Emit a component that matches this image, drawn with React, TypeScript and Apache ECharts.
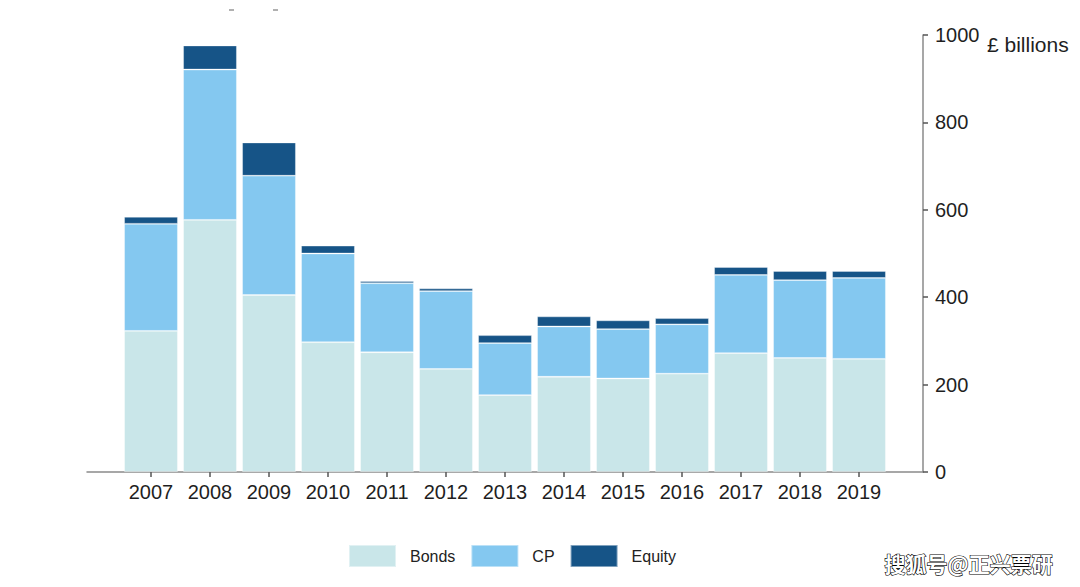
import React, { useEffect, useRef } from "react";
import * as echarts from "echarts";

const years = ["2007", "2008", "2009", "2010", "2011", "2012", "2013", "2014", "2015", "2016", "2017", "2018", "2019"];
const bonds = [323, 577, 405, 297, 274, 236, 176, 218, 214, 225, 272, 261, 259];
const cp = [245, 344, 273, 203, 158, 178, 119, 115, 113, 113, 179, 178, 185];
const equity = [16, 55, 76, 18, 5, 6, 18, 23, 20, 14, 18, 21, 16];
const yTicks = [0, 200, 400, 600, 800, 1000];
const seriesNames = ["Bonds", "CP", "Equity"];
const colors = ["#c9e6e9", "#84c8f0", "#165487"];

export default function App() {
  const ref = useRef<HTMLDivElement>(null);
  useEffect(() => {
    if (!ref.current) return;
    const chart = echarts.init(ref.current, undefined, { renderer: "svg" });
    const dataSets = [bonds, cp, equity];
    chart.setOption({
      animation: false,
      backgroundColor: "#ffffff",
      textStyle: { fontFamily: "Liberation Sans, Arial, sans-serif" },
      legend: {
        data: seriesNames,
        left: 348,
        top: 544,
        padding: 0,
        icon: "rect",
        itemWidth: 47,
        itemHeight: 22,
        itemGap: 15,
        textStyle: { fontSize: 16, color: "#222", padding: [0, 0, 0, 9] },
      },
      grid: [
        { left: 121.5, right: 191.5, top: 35, bottom: 115, containLabel: false },
        { left: 87, right: 157, top: 35, bottom: 115, containLabel: false },
      ],
      xAxis: [
        {
          type: "category",
          gridIndex: 0,
          data: years,
          axisLine: { show: false },
          axisTick: { show: true, alignWithLabel: true, length: 5, lineStyle: { color: "#555", width: 1.5 } },
          axisLabel: { fontSize: 20, color: "#1f1f1f", margin: 10 },
        },
        {
          type: "category",
          gridIndex: 1,
          data: [""],
          axisLine: { show: true, lineStyle: { color: "#8a8a8a", width: 1.5 } },
          axisTick: { show: false },
          axisLabel: { show: false },
        },
      ],
      yAxis: [
        {
          type: "value",
          gridIndex: 0,
          min: 0,
          max: 1000,
          interval: 200,
          show: false,
          splitLine: { show: false },
        },
        {
          type: "value",
          gridIndex: 1,
          position: "right",
          min: yTicks[0],
          max: yTicks[yTicks.length - 1],
          interval: 200,
          axisLine: { show: true, lineStyle: { color: "#8a8a8a", width: 1.5 } },
          axisTick: { show: true, inside: false, length: 5, lineStyle: { color: "#555", width: 1.5 } },
          axisLabel: { fontSize: 20, color: "#1f1f1f", margin: 12, formatter: (v: number) => String(v) },
          splitLine: { show: false },
        },
      ],
      series: seriesNames.map((name, i) => ({
        name,
        type: "bar",
        stack: "total",
        xAxisIndex: 0,
        yAxisIndex: 0,
        barCategoryGap: "9%",
        data: dataSets[i],
        itemStyle: { color: colors[i], borderColor: "rgba(255,255,255,0.45)", borderWidth: 0.8 },
      })),
      graphic: [
        {
          type: "text",
          left: 987,
          top: 34,
          style: { text: "£ billions", fontSize: 21, fill: "#1f1f1f", fontFamily: "Liberation Sans, Arial, sans-serif" },
        },
        {
          type: "text",
          left: 884,
          top: 552,
          style: {
            text: "搜狐号@正兴票研",
            fontSize: 21,
            fontWeight: "bold",
            fill: "#ffffff",
            stroke: "#000000",
            lineWidth: 1.2,
            fontFamily: "Noto Sans CJK SC, sans-serif",
          },
        },
        { type: "rect", shape: { x: 229, y: 9, width: 5, height: 2 }, style: { fill: "#b0b0b0" } },
        { type: "rect", shape: { x: 273, y: 9, width: 5, height: 2 }, style: { fill: "#b0b0b0" } },
      ],
    });
    return () => chart.dispose();
  }, []);
  return <div ref={ref} style={{ position: "fixed", left: 0, top: 0, width: 1080, height: 587 }} />;
}
